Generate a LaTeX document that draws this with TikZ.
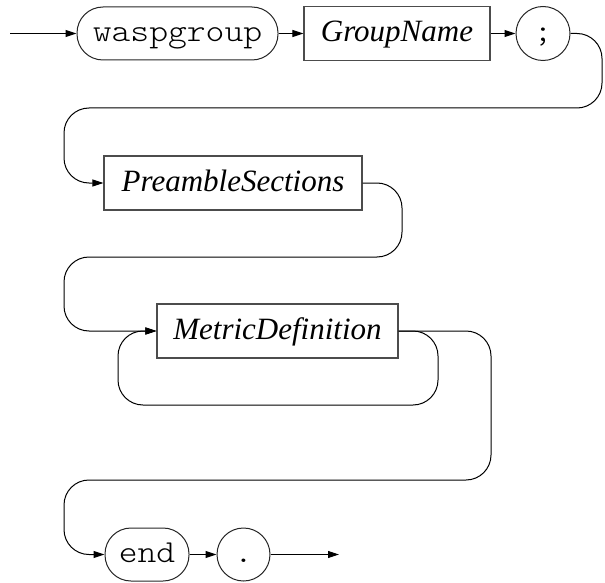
\documentclass[tikz,border=0pt]{standalone}
\usepackage{fontspec}
\setmainfont{Liberation Serif}
\setmonofont[FakeStretch=1.12]{lmmonolt10-regular.otf}
\usetikzlibrary{arrows.meta}
\begin{document}
\begin{tikzpicture}[x=1pt,y=-1pt,
  base/.style={inner sep=0pt, text height=22pt, text depth=6pt},
  term/.style={base, draw=black!85, line width=1pt, rounded corners=26pt,
    minimum height=53pt, font=\fontsize{32}{36}\selectfont\ttfamily},
  termc/.style={base, draw=black!85, circle, line width=1pt,
    minimum size=54pt, font=\fontsize{32}{36}\selectfont\ttfamily},
  nonterm/.style={base, draw=black!70, line width=1.2pt,
    minimum height=54pt, font=\fontsize{31}{36}\selectfont\itshape},
  conn/.style={line width=1pt, rounded corners=25pt},
  arr/.style={-{Triangle[length=11pt,width=7pt]}}]
\useasboundingbox (0,0) rectangle (605,583);

% nodes
\node[term, minimum width=201pt] (wasp) at (177.5,33.5) {waspgroup};
\node[nonterm, minimum width=186pt] (gname) at (397,33.5) {GroupName};
\node[termc] (semi) at (543,33.5) {;};
\node[nonterm, minimum width=258pt] (pre) at (233,183) {PreambleSections};
\node[nonterm, minimum width=241pt] (metric) at (277.5,331) {MetricDefinition};
\node[term, minimum width=84pt] (end) at (147,554.5) {end};
\node[termc, minimum size=53pt] (dot) at (243.5,554.5) {.};

\coordinate (s) at (10,33.5);
\coordinate (e) at (339,554.5);

% connectors
\draw[conn,arr] (s) -- (wasp.west);
\draw[conn,arr] (wasp.east) -- (gname.west);
\draw[conn,arr] (gname.east) -- (semi.west);
\draw[conn,arr] (semi.east) -- (602,33.5) -- (602,108) -- (64,108) -- (64,183) -- (pre.west);
\draw[conn,arr] (pre.east) -- (402,183) -- (402,257) -- (64,257) -- (64,331) -- (metric.west);
\draw[conn,arr] (metric.east) -- (438,331) -- (438,405) -- (118,405) -- (118,331) -- (metric.west);
\draw[conn,arr] (metric.east) -- (491,331) -- (491,480) -- (64,480) -- (64,554.5) -- (end.west);
\draw[conn,arr] (end.east) -- (dot.west);
\draw[conn,arr] (dot.east) -- (e);
\end{tikzpicture}
\end{document}
